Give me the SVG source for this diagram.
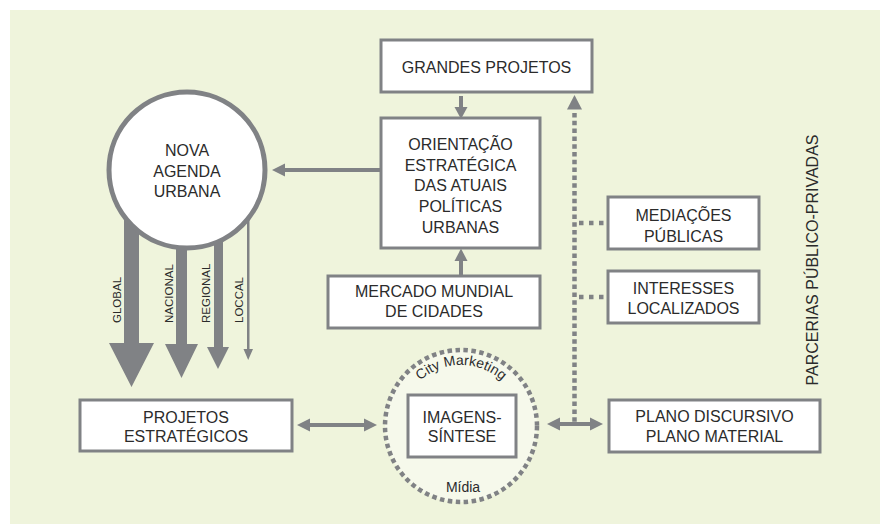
<svg xmlns="http://www.w3.org/2000/svg" width="880" height="524" viewBox="0 0 880 524">
  <style>
    .bg { fill: #eff4dc; }
    .box { fill: #ffffff; stroke: #808285; stroke-width: 3; }
    .t { font-family: "Liberation Sans", Arial, sans-serif; font-size: 16px; fill: #2b2b2b; text-anchor: middle; }
    .s { font-family: "Liberation Sans", Arial, sans-serif; font-size: 11.5px; fill: #2b2b2b; }
    .c { font-family: "Liberation Sans", Arial, sans-serif; font-size: 14px; fill: #2b2b2b; text-anchor: middle; }
    .ln { stroke: #808285; stroke-width: 4; fill: none; }
    .hd { fill: #808285; }
    .dotv { stroke: #808285; stroke-width: 4.5; fill: none; stroke-dasharray: 4.5 3.3; }
    .doth { stroke: #808285; stroke-width: 4.5; fill: none; stroke-dasharray: 4.5 5.5; }
  </style>
  <defs>
    <path id="cmArc" d="M 400,426 A 61 61 0 0 1 522,426"/>
  </defs>

  <rect class="bg" x="10" y="10" width="870" height="514"/>

  <g id="connectors">
    <!-- Orientação -> Nova Agenda -->
    <line class="ln" x1="381" y1="170" x2="283" y2="170"/>
    <polygon class="hd" points="272,170 285,163.5 285,176.5"/>
    <!-- Grandes -> Orientação -->
    <line class="ln" x1="461" y1="96" x2="461" y2="109"/>
    <polygon class="hd" points="461,119 454.5,107 467.5,107"/>
    <!-- Mercado -> Orientação -->
    <line class="ln" x1="461" y1="276" x2="461" y2="259"/>
    <polygon class="hd" points="461,248.5 454.5,261 467.5,261"/>
    <!-- downward arrows from Nova Agenda -->
    <polygon class="hd" points="124,200 139,200 139,343 154,343 131.5,387 109,343 124,343"/>
    <polygon class="hd" points="176,200 187,200 187,344 198,344 181.5,378 165,344 176,344"/>
    <polygon class="hd" points="214,200 223,200 223,347 229,347 218,369 207,347 214,347"/>
    <polygon class="hd" points="247,200 249.5,200 249.5,349 253,349 248.2,360 243.5,349 247,349"/>
    <!-- Projetos <-> City marketing -->
    <line class="ln" x1="308" y1="425" x2="366" y2="425"/>
    <polygon class="hd" points="297,425 310,418.5 310,431.5"/>
    <polygon class="hd" points="377,425 364,418.5 364,431.5"/>
    <!-- City marketing <-> Plano -->
    <line class="ln" x1="558" y1="424" x2="592" y2="424"/>
    <polygon class="hd" points="547,424 560,417.5 560,430.5"/>
    <polygon class="hd" points="603,424 590,417.5 590,430.5"/>
    <!-- dotted vertical to Grandes Projetos -->
    <line class="dotv" x1="574.5" y1="113" x2="574.5" y2="422"/>
    <polygon class="hd" points="574.5,95 567,109.5 582,109.5"/>
    <!-- dotted branches -->
    <line class="doth" x1="579" y1="223" x2="607" y2="223"/>
    <line class="doth" x1="579" y1="297" x2="607" y2="297"/>
  </g>

  <g id="nova-agenda">
    <circle cx="187" cy="170" r="78" fill="#ffffff" stroke="#808285" stroke-width="5"/>
    <text class="t" x="187" y="156">NOVA</text>
    <text class="t" x="187" y="177">AGENDA</text>
    <text class="t" x="187" y="197">URBANA</text>
  </g>

  <g id="scale-labels">
    <text class="s" transform="translate(121,323) rotate(-90)">GLOBAL</text>
    <text class="s" transform="translate(173,323) rotate(-90)">NACIONAL</text>
    <text class="s" transform="translate(210,323) rotate(-90)">REGIONAL</text>
    <text class="s" transform="translate(243,323) rotate(-90)">LOCCAL</text>
  </g>

  <g id="grandes-projetos">
    <rect class="box" x="381" y="40" width="211" height="52"/>
    <text class="t" x="486.5" y="73">GRANDES PROJETOS</text>
  </g>

  <g id="orientacao">
    <rect class="box" x="381" y="118" width="159" height="130"/>
    <text class="t" x="460.5" y="150">ORIENTAÇÃO</text>
    <text class="t" x="460.5" y="171">ESTRATÉGICA</text>
    <text class="t" x="460.5" y="191">DAS ATUAIS</text>
    <text class="t" x="460.5" y="212">POLÍTICAS</text>
    <text class="t" x="460.5" y="233">URBANAS</text>
  </g>

  <g id="mercado">
    <rect class="box" x="328" y="276" width="212" height="52"/>
    <text class="t" x="434" y="297">MERCADO MUNDIAL</text>
    <text class="t" x="434" y="317">DE CIDADES</text>
  </g>

  <g id="mediacoes">
    <rect class="box" x="608" y="197" width="151" height="52"/>
    <text class="t" x="683.5" y="221">MEDIAÇÕES</text>
    <text class="t" x="683.5" y="242">PÚBLICAS</text>
  </g>

  <g id="interesses">
    <rect class="box" x="608" y="271" width="151" height="52"/>
    <text class="t" x="683.5" y="294">INTERESSES</text>
    <text class="t" x="683.5" y="314">LOCALIZADOS</text>
  </g>

  <g id="projetos-estrategicos">
    <rect class="box" x="80" y="400" width="212" height="51"/>
    <text class="t" x="186" y="423">PROJETOS</text>
    <text class="t" x="186" y="442">ESTRATÉGICOS</text>
  </g>

  <g id="city-marketing">
    <circle cx="461" cy="426" r="76" fill="#f6f9eb" stroke="#808285" stroke-width="4.5" stroke-dasharray="4.5 3.5"/>
    <text class="c"><textPath href="#cmArc" startOffset="50%">City Marketing</textPath></text>
    <text class="c" x="463" y="492">Mídia</text>
  </g>

  <g id="imagens-sintese">
    <rect class="box" x="408" y="395" width="108" height="62"/>
    <text class="t" x="462" y="423">IMAGENS-</text>
    <text class="t" x="462" y="442">SÍNTESE</text>
  </g>

  <g id="plano">
    <rect class="box" x="609" y="400" width="211" height="52"/>
    <text class="t" x="714.5" y="422">PLANO DISCURSIVO</text>
    <text class="t" x="714.5" y="442">PLANO MATERIAL</text>
  </g>

  <g id="parcerias">
    <text class="t" transform="translate(818,260) rotate(-90)">PARCERIAS PÚBLICO-PRIVADAS</text>
  </g>
</svg>
